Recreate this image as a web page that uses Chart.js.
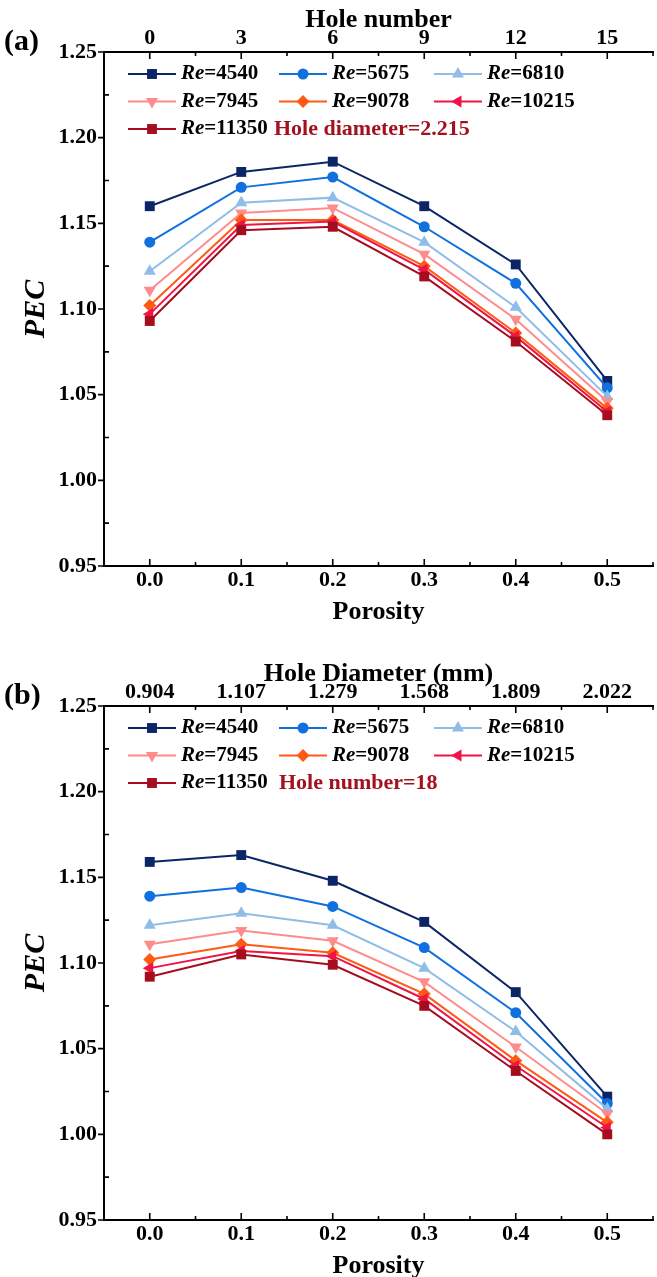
<!DOCTYPE html>
<html>
<head>
<meta charset="utf-8">
<script src="https://cdn.jsdelivr.net/npm/chart.js@4.4.1/dist/chart.umd.min.js"></script>
<style>
html, body { margin: 0; padding: 0; background: #fff; overflow: hidden; }
#wrap { position: relative; width: 657px; height: 1277px; overflow: hidden; }
canvas { position: absolute; left: 0; }
#chartA { top: 0; }
#chartB { top: 654px; }
</style>
</head>
<body>
<div id="wrap">
<canvas id="chartA" width="660" height="650"></canvas>
<canvas id="chartB" width="660" height="650"></canvas>
</div>
<script>
// shared axes
const porosity = [0.0, 0.1, 0.2, 0.3, 0.4, 0.5];
const pecTicks = [0.95, 1.00, 1.05, 1.10, 1.15, 1.20, 1.25];
const holeNumbers = ['0', '3', '6', '9', '12', '15'];
const holeDiameters = ['0.904', '1.107', '1.279', '1.568', '1.809', '2.022'];
const reynolds = ['4540', '5675', '6810', '7945', '9078', '10215', '11350'];
const seriesColors = ['#0b2566', '#1170e0', '#8fbde8', '#ff8c8c', '#ff5a14', '#ef1445', '#a50d1f'];
const markerStyles = ['rect', 'circle', 'triangle', 'triangle', 'rectRot', 'triangle', 'rect'];
const markerRotations = [0, 0, 0, 180, 0, -90, 0];
const markerRadii = [7, 5.5, 7, 7, 6.5, 7, 7];

// (a) hole diameter 2.215, varying hole number
const pecA_4540 = [1.160, 1.180, 1.186, 1.160, 1.126, 1.058];
const pecA_5675 = [1.139, 1.171, 1.177, 1.148, 1.115, 1.054];
const pecA_6810 = [1.122, 1.162, 1.165, 1.139, 1.101, 1.049];
const pecA_7945 = [1.111, 1.156, 1.159, 1.132, 1.094, 1.046];
const pecA_9078 = [1.102, 1.152, 1.152, 1.125, 1.086, 1.042];
const pecA_10215 = [1.097, 1.149, 1.151, 1.123, 1.084, 1.040];
const pecA_11350 = [1.093, 1.146, 1.148, 1.119, 1.081, 1.038];

// (b) hole number 18, varying hole diameter
const pecB_4540 = [1.159, 1.163, 1.148, 1.124, 1.083, 1.022];
const pecB_5675 = [1.139, 1.144, 1.133, 1.109, 1.071, 1.018];
const pecB_6810 = [1.122, 1.129, 1.122, 1.097, 1.060, 1.015];
const pecB_7945 = [1.111, 1.119, 1.113, 1.089, 1.051, 1.012];
const pecB_9078 = [1.102, 1.111, 1.106, 1.082, 1.043, 1.007];
const pecB_10215 = [1.097, 1.107, 1.104, 1.079, 1.040, 1.004];
const pecB_11350 = [1.092, 1.105, 1.099, 1.075, 1.037, 1.000];

const SERIF = "'Liberation Serif', 'Times New Roman', serif";
const tickFont = { family: SERIF, size: 22, weight: 'bold' };
const titleFont = { family: SERIF, size: 26, weight: 'bold' };

// inward ticks on the porosity axes, outward major / inward minor on the PEC axis
const axisTicks = {
    id: 'axisTicks',
    afterDraw(chart) {
        const { ctx, chartArea: a, scales } = chart;
        ctx.save();
        ctx.strokeStyle = '#000';
        ctx.lineWidth = 1.6;
        ctx.beginPath();
        porosity.forEach(p => {
            const px = scales.x.getPixelForValue(p);
            ctx.moveTo(px, a.bottom); ctx.lineTo(px, a.bottom - 7);
            ctx.moveTo(px, a.top); ctx.lineTo(px, a.top + 7);
            const mx = scales.x.getPixelForValue(p + 0.05);
            ctx.moveTo(mx, a.bottom); ctx.lineTo(mx, a.bottom - 4);
            ctx.moveTo(mx, a.top); ctx.lineTo(mx, a.top + 4);
        });
        pecTicks.forEach((v, i) => {
            const py = scales.y.getPixelForValue(v);
            ctx.moveTo(a.left - 6, py); ctx.lineTo(a.left, py);
            if (i < pecTicks.length - 1) {
                const my = scales.y.getPixelForValue(v + 0.025);
                ctx.moveTo(a.left, my); ctx.lineTo(a.left + 5, my);
            }
        });
        ctx.stroke();
        ctx.restore();
    }
};

// legend inside the plot, three columns, with "Re" in italics
const innerLegend = {
    id: 'innerLegend',
    afterDatasetsDraw(chart, args, opts) {
        const { ctx, chartArea: a } = chart;
        const colX = [128, 279, 434];
        const rowY = [22, 49.5, 77];
        ctx.save();
        ctx.textBaseline = 'middle';
        chart.data.datasets.forEach((ds, i) => {
            const x = colX[i % 3];
            const y = a.top + rowY[Math.floor(i / 3)];
            ctx.strokeStyle = ds.borderColor;
            ctx.fillStyle = ds.borderColor;
            ctx.lineWidth = 2;
            ctx.beginPath();
            ctx.moveTo(x, y); ctx.lineTo(x + 48, y);
            ctx.stroke();
            Chart.helpers.drawPoint(ctx, {
                pointStyle: ds.pointStyle, rotation: ds.pointRotation,
                radius: ds.pointRadius, borderWidth: 0
            }, x + 24, y);
            ctx.fillStyle = '#000';
            ctx.font = `italic bold 21px ${SERIF}`;
            ctx.fillText('Re', x + 53, y);
            const w = ctx.measureText('Re').width;
            ctx.font = `bold 21px ${SERIF}`;
            ctx.fillText('=' + reynolds[i], x + 53 + w, y);
        });
        ctx.fillStyle = '#a3111e';
        ctx.font = `bold 22px ${SERIF}`;
        ctx.fillText(opts.note, opts.noteX, a.top + rowY[2]);
        ctx.fillStyle = '#000';
        ctx.font = `bold 30px ${SERIF}`;
        ctx.fillText(opts.tag, 4, 42);
        ctx.restore();
    }
};

function buildChart(canvasId, seriesValues, topTitle, topLabels, tag, note, noteX) {
    const datasets = seriesValues.map((vals, i) => ({
        label: 'Re=' + reynolds[i],
        data: porosity.map((p, j) => ({ x: p, y: vals[j] })),
        borderColor: seriesColors[i],
        backgroundColor: seriesColors[i],
        borderWidth: 2,
        pointStyle: markerStyles[i],
        pointRotation: markerRotations[i],
        pointRadius: markerRadii[i],
        pointBorderWidth: 0,
        pointHoverRadius: markerRadii[i],
        tension: 0,
        order: seriesValues.length - i
    }));

    return new Chart(document.getElementById(canvasId), {
        type: 'line',
        data: { datasets: datasets },
        options: {
            responsive: false,
            animation: false,
            events: [],
            layout: { padding: 0 },
            plugins: {
                legend: { display: false },
                tooltip: { enabled: false },
                innerLegend: { tag: tag, note: note, noteX: noteX }
            },
            scales: {
                x: {
                    type: 'linear', position: 'bottom', min: -0.05, max: 0.55,
                    afterBuildTicks: s => { s.ticks = porosity.map(v => ({ value: v })); },
                    afterFit: s => { s.height = 84; },
                    grid: { display: false, drawTicks: false },
                    border: { display: true, color: '#000', width: 2 },
                    ticks: {
                        font: tickFont, color: '#000', padding: 1, maxRotation: 0, autoSkip: false,
                        callback: v => v.toFixed(1)
                    },
                    title: {
                        display: true, text: 'Porosity', font: titleFont, color: '#000',
                        padding: { top: 0, bottom: 22 }
                    }
                },
                x2: {
                    type: 'linear', position: 'top', min: -0.05, max: 0.55,
                    afterBuildTicks: s => { s.ticks = porosity.map(v => ({ value: v })); },
                    afterFit: s => { s.height = 52; },
                    grid: { display: false, drawTicks: false },
                    border: { display: true, color: '#000', width: 2 },
                    ticks: {
                        font: tickFont, color: '#000', padding: 0, maxRotation: 0, autoSkip: false,
                        callback: (v, i) => topLabels[i]
                    },
                    title: {
                        display: true, text: topTitle, font: titleFont, color: '#000',
                        padding: { top: 5, bottom: 0 }
                    }
                },
                y: {
                    type: 'linear', position: 'left', min: 0.95, max: 1.25,
                    afterBuildTicks: s => { s.ticks = pecTicks.map(v => ({ value: v })); },
                    afterFit: s => { s.width = 104; },
                    grid: { display: false, drawTicks: false },
                    border: { display: true, color: '#000', width: 2 },
                    ticks: {
                        font: tickFont, color: '#000', padding: 7,
                        callback: v => v.toFixed(2)
                    },
                    title: {
                        display: true, text: 'PEC', color: '#000',
                        font: { family: SERIF, size: 30, weight: 'bold', style: 'italic' },
                        padding: { top: 18, bottom: 0 }
                    }
                }
            }
        },
        plugins: [axisTicks, innerLegend]
    });
}

buildChart('chartA',
    [pecA_4540, pecA_5675, pecA_6810, pecA_7945, pecA_9078, pecA_10215, pecA_11350],
    'Hole number', holeNumbers, '(a)', 'Hole diameter=2.215', 274);

buildChart('chartB',
    [pecB_4540, pecB_5675, pecB_6810, pecB_7945, pecB_9078, pecB_10215, pecB_11350],
    'Hole Diameter (mm)', holeDiameters, '(b)', 'Hole number=18', 279);
</script>
</body>
</html>
